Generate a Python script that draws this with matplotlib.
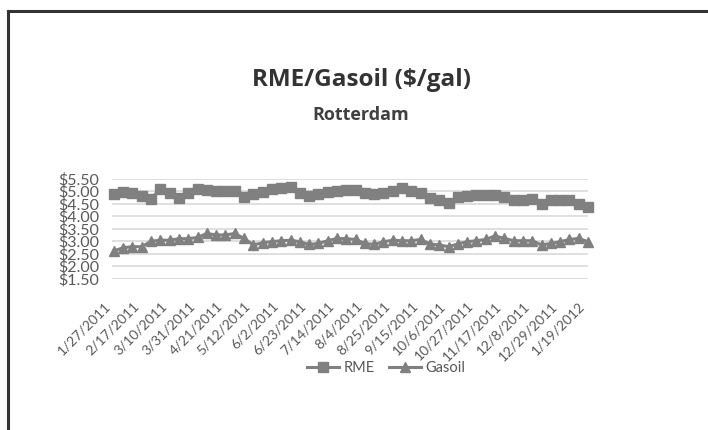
import numpy as np
import matplotlib
matplotlib.use("Agg")
import matplotlib.pyplot as plt
from matplotlib.lines import Line2D
from matplotlib.transforms import ScaledTranslation

plt.rcParams['font.family'] = ['Lato', 'DejaVu Sans']

# weekly prices, 1/27/2011 .. 1/19/2012
rme = [4.89, 4.98, 4.94, 4.81, 4.69, 5.10, 4.92, 4.73, 4.92, 5.09,
       5.06, 4.99, 5.01, 4.99, 4.75, 4.89, 4.98, 5.07, 5.11, 5.18,
       4.94, 4.81, 4.87, 4.98, 5.01, 5.05, 5.05, 4.94, 4.89, 4.94,
       5.01, 5.11, 5.01, 4.92, 4.73, 4.63, 4.53, 4.75, 4.81, 4.85,
       4.85, 4.85, 4.78, 4.65, 4.63, 4.68, 4.49, 4.63, 4.65, 4.65,
       4.49, 4.38]
gasoil = [2.61, 2.74, 2.78, 2.78, 3.00, 3.04, 3.04, 3.10, 3.10, 3.15,
          3.31, 3.25, 3.25, 3.31, 3.11, 2.85, 2.94, 2.98, 3.02, 3.04,
          2.98, 2.87, 2.91, 3.02, 3.11, 3.10, 3.07, 2.91, 2.87, 2.98,
          3.04, 3.02, 3.02, 3.07, 2.89, 2.85, 2.78, 2.89, 2.98, 3.02,
          3.07, 3.21, 3.11, 3.02, 3.02, 3.02, 2.85, 2.91, 2.98, 3.07,
          3.11, 2.98]
tick_labels = ["1/27/2011", "2/17/2011", "3/10/2011", "3/31/2011", "4/21/2011",
               "5/12/2011", "6/2/2011", "6/23/2011", "7/14/2011", "8/4/2011",
               "8/25/2011", "9/15/2011", "10/6/2011", "10/27/2011", "11/17/2011",
               "12/8/2011", "12/29/2011", "1/19/2012"]
y_ticks = [1.5, 2.0, 2.5, 3.0, 3.5, 4.0, 4.5, 5.0, 5.5]

W, H = 708, 430
fig = plt.figure(figsize=(W / 100, H / 100), dpi=100)
fig.patch.set_facecolor("white")

# dark frame on top and left
fig.add_artist(Line2D([8 / W, 8 / W], [0, 1 - 11 / H], color="#333333", lw=2.2))
fig.add_artist(Line2D([8 / W, 1], [1 - 11 / H, 1 - 11 / H], color="#333333", lw=2.2))

ax = fig.add_axes([112 / W, 1 - 278.7 / H, 476 / W, 100 / H])
x = np.arange(len(rme))
line_col = "#808080"
ax.plot(x, rme, color=line_col, lw=2.2, marker="s", ms=6.5, label="RME", clip_on=False, zorder=3)
ax.plot(x, gasoil, color=line_col, lw=2.2, marker="^", ms=6.5, label="Gasoil", clip_on=False, zorder=3)

ax.set_xlim(-0.2, len(rme) - 1)
ax.set_ylim(1.5, 5.5)
ax.set_yticks(y_ticks)
ax.set_yticklabels([f"${v:.2f}" for v in y_ticks], fontsize=11.5, color="#595959")
ax.grid(axis="y", color="#d9d9d9", lw=1.2)
ax.set_axisbelow(True)
for s in ax.spines.values():
    s.set_visible(False)
ax.tick_params(length=0)
ax.tick_params(axis="y", pad=9)

tick_pos = x[::3][:len(tick_labels)]
ax.set_xticks(tick_pos)
ax.set_xticklabels(tick_labels, rotation=45, ha="right", va="center",
                   rotation_mode="anchor", fontsize=10, color="#595959")
ax.tick_params(axis="x", pad=18)
shift = ScaledTranslation(-5 / 100, 0, fig.dpi_scale_trans)
for lab in ax.get_xticklabels():
    lab.set_transform(lab.get_transform() + shift)

fig.text(361 / W, 1 - 80 / H, "RME/Gasoil ($/gal)", ha="center", va="center",
         fontsize=17.5, fontweight="bold", color="#333333", family="Open Sans")
fig.text(361 / W, 1 - 115 / H, "Rotterdam", ha="center", va="center",
         fontsize=13, fontweight="bold", color="#404040", family="Open Sans")

fig.legend(loc="center", bbox_to_anchor=(386 / W, 1 - 368 / H), ncol=2, frameon=False,
           fontsize=10.5, labelcolor="#595959", handlelength=2.2, columnspacing=1.0,
           handletextpad=0.3)

fig.savefig("out.png", dpi=100, facecolor="white")
